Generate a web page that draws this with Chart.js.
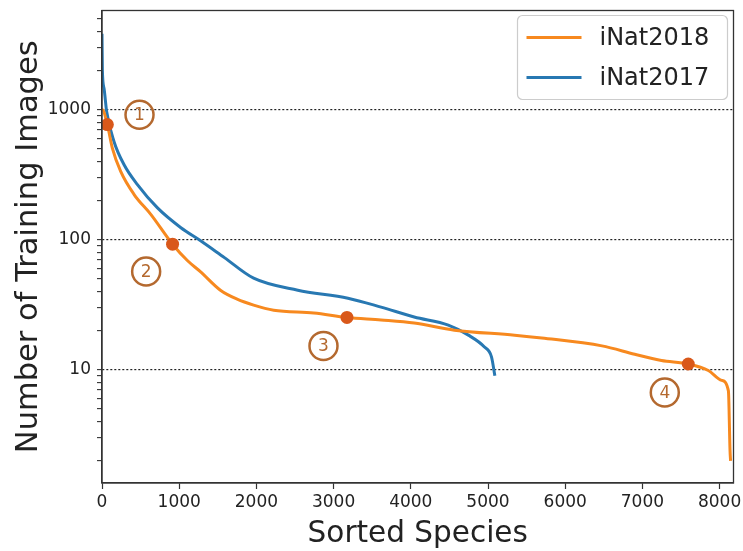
<!DOCTYPE html>
<html>
<head>
<meta charset="utf-8">
<script src="https://cdn.jsdelivr.net/npm/chart.js@4"></script>
<style>
  html, body { margin: 0; background: #fff; overflow: hidden; }
  #myChart { display: block; margin-top: -6px; }
</style>
</head>
<body>
<canvas id="myChart" width="750" height="557"></canvas>
<script>
// values
const inat2018X = [0, 4, 69, 134, 242, 416, 632, 914, 1109, 1274, 1534, 1750, 1964, 2224, 2744, 3173, 3615, 4044, 4564, 5345, 5696, 6476, 6900, 7247, 7594, 7854, 8027, 8114, 8135, 8142];
const inat2018Y = [1000, 1000, 770, 508, 336, 223, 157, 92.6, 69, 57, 41, 35, 31.5, 28.8, 27.4, 25.3, 24.2, 22.9, 20.2, 18.5, 17.6, 15.3, 13.2, 11.8, 11.1, 9.9, 8.3, 6.9, 2.4, 2];

const inat2017X = [0, 5, 26, 60, 155, 286, 459, 719, 1022, 1282, 1586, 1964, 2536, 3186, 3615, 4044, 4486, 4746, 4954, 5045, 5089];
const inat2017Y = [3850, 2000, 1465, 970, 571, 378, 266, 176, 124, 98, 73, 50.7, 41, 35.6, 30.4, 25.5, 22.1, 18.5, 15, 12.6, 9];

const markerX = [69, 914, 3173, 7594];
const markerY = [770, 92.6, 25.3, 11.1];

const circleLabels = ["1", "2", "3", "4"];
const circleX = [486, 572, 2869, 7290];
const circleY = [916, 57, 15.3, 6.7];

const xTicks = [0, 1000, 2000, 3000, 4000, 5000, 6000, 7000, 8000];
const yTicks = [2, 3, 4, 5, 6, 7, 8, 9, 10, 20, 30, 40, 50, 60, 70, 80, 90,
  100, 200, 300, 400, 500, 600, 700, 800, 900, 1000, 2000, 3000, 4000, 5000];
const yLabelled = [10, 100, 1000];

const pts = (xs, ys) => xs.map((x, i) => ({ x: x, y: ys[i] }));

Chart.defaults.font.family = "'DejaVu Sans', sans-serif";
Chart.defaults.color = "#222";

const ORANGE = "#f7891f";
const BLUE = "#2878b2";

const frameAndExtras = {
  id: "frameAndExtras",
  afterDatasetsDraw(chart) {
    const ctx = chart.ctx;
    const a = chart.chartArea;
    ctx.save();
    // full frame like matplotlib spines
    ctx.strokeStyle = "#333";
    ctx.lineWidth = 1.3;
    ctx.strokeRect(a.left, a.top, a.right - a.left, a.bottom - a.top);

    // numbers inside the circles
    const meta = chart.getDatasetMeta(3);
    ctx.fillStyle = "#b4692f";
    ctx.font = "17px 'DejaVu Sans'";
    ctx.textAlign = "center";
    ctx.textBaseline = "middle";
    meta.data.forEach((p, i) => {
      ctx.fillText(circleLabels[i], p.x, p.y + 1);
    });

    // legend box
    const bx = a.right - 216, by = a.top + 5, bw = 210, bh = 84;
    ctx.fillStyle = "rgba(255,255,255,0.85)";
    ctx.strokeStyle = "#cccccc";
    ctx.lineWidth = 1.2;
    ctx.beginPath();
    ctx.roundRect(bx, by, bw, bh, 5);
    ctx.fill();
    ctx.stroke();
    ctx.font = "24px 'DejaVu Sans'";
    ctx.textAlign = "left";
    ctx.textBaseline = "middle";
    [0, 1].forEach((di, row) => {
      const ds = chart.data.datasets[di];
      const y = by + 22 + row * 40;
      ctx.strokeStyle = ds.borderColor;
      ctx.lineWidth = 3;
      ctx.beginPath();
      ctx.moveTo(bx + 9, y);
      ctx.lineTo(bx + 64, y);
      ctx.stroke();
      ctx.fillStyle = "#222";
      ctx.fillText(ds.label, bx + 82, y + 1);
    });
    ctx.restore();
  }
};

const ctx = document.getElementById("myChart");

new Chart(ctx, {
  type: "line",
  data: {
    datasets: [
      {
        label: "iNat2018",
        data: pts(inat2018X, inat2018Y),
        borderColor: ORANGE,
        backgroundColor: ORANGE,
        borderWidth: 3,
        pointRadius: 0,
        cubicInterpolationMode: "monotone",
        order: 2,
      },
      {
        label: "iNat2017",
        data: pts(inat2017X, inat2017Y),
        borderColor: BLUE,
        backgroundColor: BLUE,
        borderWidth: 3,
        pointRadius: 0,
        cubicInterpolationMode: "monotone",
        order: 3,
      },
      {
        label: "markers",
        data: pts(markerX, markerY),
        showLine: false,
        pointRadius: 6.5,
        pointBackgroundColor: "#d9581a",
        pointBorderWidth: 0,
        order: 1,
      },
      {
        label: "circles",
        data: pts(circleX, circleY),
        showLine: false,
        pointRadius: 14,
        pointBackgroundColor: "rgba(255,255,255,0)",
        pointBorderColor: "#b4692f",
        pointBorderWidth: 2.5,
        order: 0,
      },
    ],
  },
  options: {
    responsive: false,
    animation: false,
    layout: { padding: { top: 4, right: 4, left: 0, bottom: 0 } },
    plugins: {
      legend: { display: false },
      tooltip: { enabled: false },
    },
    scales: {
      x: {
        type: "linear",
        min: 0,
        max: 8180,
        afterBuildTicks: (scale) => { scale.ticks = xTicks.map((v) => ({ value: v })); },
        afterFit: (scale) => { scale.height = 68; },
        ticks: { font: { size: 17 }, padding: 3, maxRotation: 0, autoSkip: false, color: "#222", callback: (v) => String(v) },
        grid: { color: "rgba(0,0,0,0)", tickColor: "#333", tickLength: 6, tickWidth: 1.2 },
        border: { color: "#333", width: 1.3 },
        title: { display: true, text: "Sorted Species", font: { size: 29.5, lineHeight: 1 }, padding: { top: 0, bottom: 2 }, color: "#222" },
      },
      y: {
        type: "logarithmic",
        min: 1.35,
        max: 5800,
        afterBuildTicks: (scale) => { scale.ticks = yTicks.map((v) => ({ value: v })); },
        afterFit: (scale) => { scale.width = 102; },
        ticks: {
          font: { size: 17 },
          padding: 6,
          autoSkip: false,
          color: "#222",
          callback: (v) => (yLabelled.includes(v) ? String(v) : ""),
        },
        grid: {
          color: (c) => (c.tick && yLabelled.includes(c.tick.value) ? "#222" : "rgba(0,0,0,0)"),
          lineWidth: 1.2,
          tickColor: "#333",
          tickLength: 5,
          tickWidth: 1.1,
        },
        border: { color: "#333", width: 1.3, dash: [2, 2] },
        title: { display: true, text: "Number of Training Images", font: { size: 30.5, lineHeight: 1 }, padding: { top: 14, bottom: 0 }, color: "#222" },
      },
    },
  },
  plugins: [frameAndExtras],
});
</script>
</body>
</html>
